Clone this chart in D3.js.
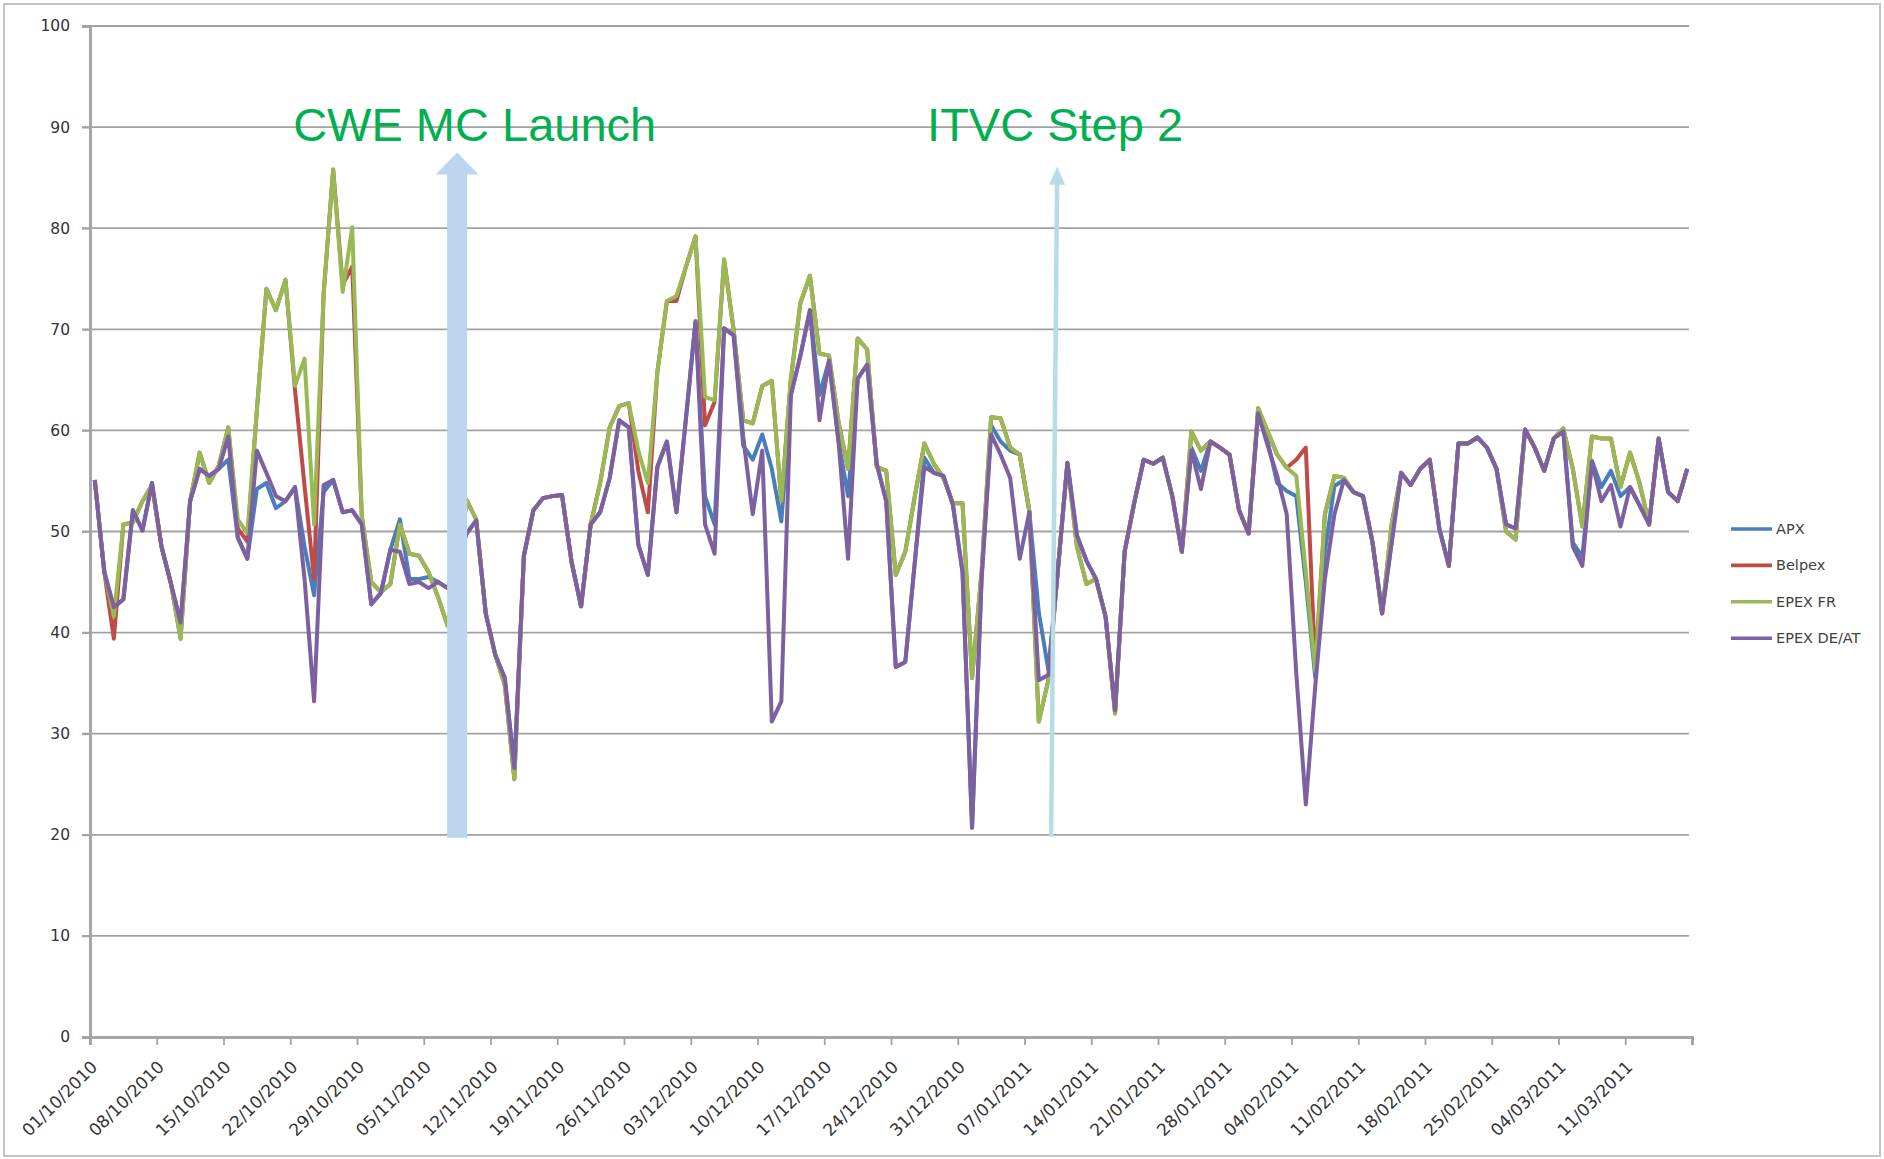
<!DOCTYPE html>
<html>
<head>
<meta charset="utf-8">
<script src="https://cdn.jsdelivr.net/npm/d3@7"></script>
<style>
  body { margin: 0; background: #fff; }
  svg text { font-family: "DejaVu Sans", Verdana, sans-serif; }
</style>
</head>
<body>
<div id="chart"></div>
<script>
// Daily prices, 01/10/2010 .. 17/03/2011
const startDate = new Date(Date.UTC(2010, 9, 1));
const endDate = new Date(Date.UTC(2011, 2, 18));
const days = d3.utcDay.range(startDate, endDate);

const tickLabels = ["01/10/2010", "08/10/2010", "15/10/2010", "22/10/2010", "29/10/2010",
  "05/11/2010", "12/11/2010", "19/11/2010", "26/11/2010", "03/12/2010", "10/12/2010",
  "17/12/2010", "24/12/2010", "31/12/2010", "07/01/2011", "14/01/2011", "21/01/2011",
  "28/01/2011", "04/02/2011", "11/02/2011", "18/02/2011", "25/02/2011", "04/03/2011",
  "11/03/2011"];

const yTicks = [0, 10, 20, 30, 40, 50, 60, 70, 80, 90, 100];

const seriesNames = ["APX", "Belpex", "EPEX FR", "EPEX DE/AT"];

const apx = [
  55.1, 46, 42.5, 43.3, 52.1, 50.1, 54.8, 48.5, 44.8, 41,
  53, 56.2, 55.5, 56.2, 57.1, 49.4, 47.3, 54.2, 54.8, 52.3,
  53, 54.4, 48.5, 43.7, 53.9, 55.1, 51.9, 52.1, 50.7, 42.8,
  43.9, 48.2, 51.2, 45.3, 45.3, 45.5, 45, 44.4, 47, 49.8,
  51.1, 41.9, 37.8, 35.5, 26.6, 47.6, 52.1, 53.3, 53.5, 53.6,
  47, 42.6, 50.7, 51.9, 55.3, 61, 60.3, 48.7, 45.7, 56.4,
  58.9, 51.9, 61.2, 70.8, 53.5, 50.7, 70.1, 69.4, 58.5, 57.1,
  59.6, 56.2, 51, 63.5, 67.4, 71.9, 63.5, 66.9, 58.9, 53.5,
  65.1, 66.5, 56.7, 53, 36.6, 37.1, 47, 57.3, 55.8, 55.5,
  52.6, 46, 20.7, 45.3, 60.5, 58.9, 58, 57.6, 52, 42,
  36.3, 46.2, 56.8, 49.6, 47.1, 45.3, 41.6, 32.3, 48, 52.8,
  57.1, 56.7, 57.3, 53.5, 48, 58.3, 56, 58.9, 58.3, 57.6,
  52.1, 49.8, 61.7, 58.9, 54.8, 54, 53.5, 45, 35.5, 48,
  54.5, 55.1, 53.9, 53.5, 48.9, 41.9, 48.9, 55.8, 54.6, 56.2,
  57.1, 50.3, 46.6, 58.7, 58.7, 59.3, 58.3, 56.2, 50.7, 50.3,
  60.1, 58.3, 56, 59.2, 59.9, 48.9, 47.5, 57, 54.4, 56,
  53.5, 54.4, 52.6, 50.7, 59.2, 53.9, 53, 56.2
];

const belpex = [
  55.1, 46, 39.4, 50.7, 50.9, 53, 54.6, 48.5, 44.8, 39.4,
  53, 57.8, 54.8, 56.5, 60.3, 50.3, 49, 62, 74, 71.9,
  74.9, 64, 54.5, 45.3, 73.5, 85.8, 74.4, 76.2, 51.5, 45,
  44, 44.8, 50.7, 47.8, 47.6, 46, 43.5, 40.7, 46, 53.1,
  51.2, 41.9, 37.8, 34.8, 25.5, 47.6, 52.1, 53.3, 53.5, 53.6,
  47, 42.6, 50.7, 54.8, 60.3, 62.4, 62.7, 56, 51.9, 65.8,
  72.8, 72.8, 76.2, 79.2, 60.5, 62.8, 76.9, 69.9, 61, 60.7,
  64.4, 64.9, 53, 65.1, 72.6, 75.3, 67.6, 67.4, 60.8, 56.2,
  69.1, 68, 56.4, 56, 45.7, 48, 53.5, 58.7, 56.7, 55.3,
  52.8, 52.8, 35.5, 46, 61.3, 61.2, 58.3, 57.6, 52.1, 31.2,
  35.3, 46.2, 56.8, 48.5, 44.8, 45.3, 41.6, 32, 48, 52.8,
  57.1, 56.7, 57.3, 53.5, 48, 59.9, 58, 58.9, 58.3, 57.6,
  52.1, 49.8, 62.2, 59.9, 57.6, 56.3, 57.1, 58.3, 36.5, 51.7,
  55.5, 55.3, 53.9, 53.5, 48.9, 41.9, 50.7, 55.8, 54.6, 56.2,
  57.1, 50.3, 46.6, 58.7, 58.7, 59.3, 58.3, 56.2, 50, 49.2,
  60.1, 58.3, 56, 59.2, 60.2, 56.2, 50.5, 59.4, 59.2, 59.2,
  54.4, 57.8, 54.8, 50.7, 59.2, 53.9, 53, 56.2
];

const epexFr = [
  55.1, 46, 41.6, 50.7, 50.9, 53, 54.6, 48.5, 44.8, 39.4,
  53, 57.8, 54.8, 56.5, 60.3, 51.2, 49.8, 62, 74, 71.9,
  74.9, 64.4, 67.1, 50.7, 73.5, 85.8, 73.7, 80.1, 51.5, 45,
  44, 44.8, 50.7, 47.8, 47.6, 46, 43.5, 40.7, 46, 53.1,
  51.2, 41.9, 37.8, 34.8, 25.5, 47.6, 52.1, 53.3, 53.5, 53.6,
  47, 42.6, 50.7, 54.8, 60.3, 62.4, 62.7, 58, 54.8, 65.8,
  72.8, 73.3, 76.2, 79.2, 63.3, 63, 76.9, 69.9, 61, 60.7,
  64.4, 64.9, 53, 65.1, 72.6, 75.3, 67.6, 67.4, 60.8, 56.2,
  69.1, 68, 56.4, 56, 45.7, 48, 53.5, 58.7, 56.7, 55.3,
  52.8, 52.8, 35.5, 46, 61.3, 61.2, 58.3, 57.6, 52.1, 31.2,
  35.3, 46.2, 56.8, 48.5, 44.8, 45.3, 41.6, 32, 48, 52.8,
  57.1, 56.7, 57.3, 53.5, 48, 59.9, 58, 58.9, 58.3, 57.6,
  52.1, 49.8, 62.2, 59.9, 57.6, 56.3, 55.5, 46, 36.2, 51.7,
  55.5, 55.3, 53.9, 53.5, 48.9, 41.9, 50.7, 55.8, 54.6, 56.2,
  57.1, 50.3, 46.6, 58.7, 58.7, 59.3, 58.3, 56.2, 50, 49.2,
  60.1, 58.3, 56, 59.2, 60.2, 56.2, 50.5, 59.4, 59.2, 59.2,
  54.4, 57.8, 54.8, 50.7, 59.2, 53.9, 53, 56.2
];

const epexDeAt = [
  55.1, 46, 42.5, 43.3, 52.1, 50.1, 54.8, 48.5, 44.8, 41,
  53, 56.2, 55.5, 56.2, 59.4, 49.4, 47.3, 58, 55.8, 53.5,
  53, 54.4, 45.3, 33.2, 54.6, 55.1, 51.9, 52.1, 50.7, 42.8,
  43.9, 48.2, 48, 44.8, 45, 44.4, 45, 44.4, 47, 49.8,
  51.1, 41.9, 37.8, 35.5, 26.6, 47.6, 52.1, 53.3, 53.5, 53.6,
  47, 42.6, 50.7, 51.9, 55.3, 61, 60.3, 48.7, 45.7, 56.4,
  58.9, 51.9, 61.2, 70.8, 50.7, 47.8, 70.1, 69.4, 59.4, 51.7,
  58, 31.2, 33.2, 63.5, 67.4, 71.9, 61, 66.9, 58.9, 47.3,
  65.1, 66.5, 56.7, 53, 36.6, 37.1, 47, 56.4, 55.8, 55.5,
  52.6, 46, 20.7, 45.3, 59.6, 57.6, 55.3, 47.3, 51.9, 35.3,
  35.8, 46.2, 56.8, 49.6, 47.1, 45.3, 41.6, 32.3, 48, 52.8,
  57.1, 56.7, 57.3, 53.5, 48, 58, 54.2, 58.9, 58.3, 57.6,
  52.1, 49.8, 61.7, 58.5, 55.5, 51.7, 36, 23, 34.8, 45.3,
  51.7, 55.1, 53.9, 53.5, 48.9, 41.9, 48.9, 55.8, 54.6, 56.2,
  57.1, 50.3, 46.6, 58.7, 58.7, 59.3, 58.3, 56.2, 50.7, 50.3,
  60.1, 58.3, 56, 59.2, 59.9, 48.5, 46.6, 56.9, 53, 54.6,
  50.5, 54.4, 52.6, 50.7, 59.2, 53.9, 53, 56.2
];

const seriesValues = [apx, belpex, epexFr, epexDeAt];
const seriesColors = ["#4A7EBB", "#BE4B48", "#98B954", "#7D60A0"];

const svgWidth = 1884, svgHeight = 1159;
const svg = d3.select("#chart").append("svg")
  .attr("width", svgWidth)
  .attr("height", svgHeight);

// outer frame of the pasted chart
svg.append("rect")
  .attr("x", 4).attr("y", 4)
  .attr("width", svgWidth - 8).attr("height", svgHeight - 7)
  .attr("fill", "none").attr("stroke", "#c4c4c4").attr("stroke-width", 2);

// plot area
const plotLeft = 90, plotRight = 1692, plotTop = 26, plotBottom = 1037;

const x = d3.scaleUtc().domain([startDate, endDate]).range([plotLeft, plotRight]);
const y = d3.scaleLinear().domain([0, 100]).range([plotBottom, plotTop]);

// gridlines
svg.append("g")
  .selectAll("line")
  .data(yTicks.filter(d => d > 0))
  .enter().append("line")
    .attr("x1", plotLeft - 8).attr("x2", plotRight - 3)
    .attr("y1", d => y(d)).attr("y2", d => y(d))
    .attr("stroke", "#a2a2a2").attr("stroke-width", 1.8);

// y axis
const yAxis = svg.append("g")
  .attr("transform", "translate(" + plotLeft + ",0)")
  .call(d3.axisLeft(y).tickValues(yTicks).tickSize(8).tickPadding(12));
yAxis.select(".domain").attr("stroke", "#a6a6a6").attr("stroke-width", 3);
yAxis.selectAll(".tick line").attr("stroke", "#a2a2a2").attr("stroke-width", 1.8);
yAxis.selectAll("text").attr("font-size", 15.5).attr("fill", "#333");

// x axis, weekly ticks
const tickDates = d3.range(0, 169, 7).map(d => d3.utcDay.offset(startDate, d));
const xAxis = svg.append("g")
  .attr("transform", "translate(0," + plotBottom + ")")
  .call(d3.axisBottom(x).tickValues(tickDates).tickSize(8)
    .tickFormat((d, i) => tickLabels[i] || ""));
xAxis.select(".domain").attr("stroke", "#a6a6a6").attr("stroke-width", 3);
xAxis.selectAll(".tick line").attr("stroke", "#a2a2a2").attr("stroke-width", 1.8);
xAxis.selectAll("text")
  .attr("font-size", 17).attr("fill", "#333")
  .attr("text-anchor", "end")
  .attr("dy", "0.35em")
  .attr("transform", "translate(-4,19) rotate(-45)");

// series lines (drawn in Excel order, DE/AT on top)
const line = d3.line()
  .x((d, i) => x(d3.utcHour.offset(days[i], 12)))
  .y(d => y(d));

svg.append("g")
  .selectAll("path")
  .data(seriesValues)
  .enter().append("path")
    .attr("d", line)
    .attr("fill", "none")
    .attr("stroke", (d, i) => seriesColors[i])
    .attr("stroke-width", 4)
    .attr("stroke-linejoin", "round");

// annotations
const dayX = d => x(d3.utcHour.offset(startDate, Math.round(d * 24)));

// CWE MC launch: thick block arrow
const cweX = dayX(38.5);
const shaftW = 20, headW = 43;
svg.append("path")
  .attr("d", d3.line()([
    [cweX - shaftW / 2, y(19.7)], [cweX - shaftW / 2, y(85.3)],
    [cweX - headW / 2, y(85.3)], [cweX, y(87.5)],
    [cweX + headW / 2, y(85.3)], [cweX + shaftW / 2, y(85.3)],
    [cweX + shaftW / 2, y(19.7)]
  ]) + "Z")
  .attr("fill", "#bed5ef");

svg.append("text")
  .attr("x", cweX - 164).attr("y", 141)
  .style("font-family", "'Liberation Sans', Arial, sans-serif")
  .attr("font-size", 47).attr("fill", "#00b050")
  .text("CWE MC Launch");

// ITVC step 2: thin arrow
const itvcX0 = dayX(100.8), itvcX1 = dayX(101.4);
svg.append("line")
  .attr("x1", itvcX0).attr("y1", y(19.8))
  .attr("x2", itvcX1).attr("y2", y(84.5))
  .attr("stroke", "#b6dde6").attr("stroke-width", 4.5);
svg.append("path")
  .attr("d", d3.line()([
    [itvcX1 - 8, y(84.3)], [itvcX1 + 0.2, y(86.1)], [itvcX1 + 8, y(84.3)]
  ]) + "Z")
  .attr("fill", "#b6dde6");

svg.append("text")
  .attr("x", itvcX1 - 130).attr("y", 141)
  .style("font-family", "'Liberation Sans', Arial, sans-serif")
  .attr("font-size", 47).attr("fill", "#00b050")
  .text("ITVC Step 2");

// legend
const legend = svg.append("g")
  .selectAll("g")
  .data(seriesNames)
  .enter().append("g")
    .attr("transform", (d, i) => "translate(1731," + (529 + i * 36.4) + ")");

legend.append("line")
  .attr("x1", 0).attr("x2", 41)
  .attr("stroke", (d, i) => seriesColors[i])
  .attr("stroke-width", 3.6);

legend.append("text")
  .attr("x", 45).attr("dy", "0.35em")
  .attr("font-size", 14.5).attr("fill", "#404040")
  .text(d => d);
</script>
</body>
</html>
